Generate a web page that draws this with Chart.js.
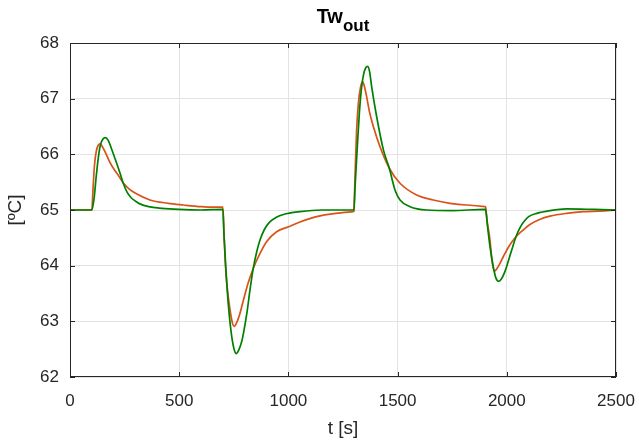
<!DOCTYPE html>
<html>
<head>
<meta charset="utf-8">
<script src="https://cdn.jsdelivr.net/npm/chart.js@4"></script>
<style>
  html, body { margin: 0; padding: 0; background: #fff; }
  #wrap { position: relative; width: 639px; height: 444px; }
  #title {
    position: absolute; left: 0; width: 686px; top: 5px; text-align: center;
    font-family: "Liberation Sans", Arial, sans-serif; font-weight: bold; font-size: 20px; color: #000;
  }
  #title sub { font-size: 17px; vertical-align: -8px; }
</style>
</head>
<body>
<div id="wrap">
  <canvas id="chart" width="639" height="444"></canvas>
  <div id="title">Tw<sub>out</sub></div>
</div>
<script>
// green series (t [s], Tw_out [ºC])
const tGreen = [0, 100, 110, 120, 130, 140, 150, 162, 175, 190, 210, 230, 243, 260, 280, 300, 320, 360, 420, 500, 600, 700,
  705, 715, 725, 738, 750, 761, 772, 785, 794, 810, 824, 839, 855, 870, 890, 916, 945, 977, 1053, 1150, 1300,
  1305, 1315, 1325, 1335, 1345, 1355, 1363, 1372, 1381, 1404, 1435, 1462, 1488, 1511, 1557, 1633, 1750, 1900,
  1903, 1912, 1923, 1938, 1950, 1963, 1975, 1990, 1999, 2020, 2042, 2060, 2076, 2100, 2137, 2198, 2274, 2400, 2500];
const vGreen = [65.0, 65.0, 65.2, 65.6, 65.95, 66.18, 66.27, 66.30, 66.25, 66.1, 65.88, 65.65, 65.49, 65.33, 65.22, 65.16, 65.11, 65.06, 65.03, 65.01, 65.0, 65.01,
  64.55, 63.85, 63.3, 62.8, 62.52, 62.42, 62.48, 62.62, 62.78, 63.15, 63.56, 63.95, 64.25, 64.46, 64.65, 64.79, 64.87, 64.92, 64.97, 65.0, 65.0,
  65.4, 66.1, 66.75, 67.2, 67.45, 67.56, 67.58, 67.48, 67.22, 66.68, 66.08, 65.75, 65.36, 65.18, 65.06, 65.0, 64.99, 65.01,
  65.0, 64.7, 64.34, 63.98, 63.78, 63.72, 63.76, 63.88, 63.98, 64.25, 64.52, 64.68, 64.78, 64.88, 64.94, 64.99, 65.02, 65.01, 65.0];

// orange series
const tOrange = [0, 100, 105, 112, 120, 130, 137, 145, 160, 180, 200, 225, 243, 270, 300, 366, 450, 519, 600, 656, 700,
  705, 712, 720, 733, 745, 752, 760, 775, 794, 815, 839, 870, 900, 946, 1001, 1050, 1129, 1200, 1297,
  1300, 1305, 1312, 1320, 1330, 1340, 1348, 1358, 1372, 1389, 1419, 1462, 1511, 1587, 1663, 1740, 1816, 1900,
  1903, 1910, 1923, 1932, 1943, 1955, 1970, 1984, 2010, 2042, 2075, 2106, 2150, 2198, 2274, 2350, 2427, 2500];
const vOrange = [65.0, 65.0, 65.35, 65.8, 66.05, 66.17, 66.19, 66.16, 66.05, 65.88, 65.74, 65.6, 65.49, 65.38, 65.30, 65.18, 65.12, 65.09, 65.06, 65.05, 65.05,
  64.6, 64.0, 63.6, 63.2, 62.95, 62.91, 62.95, 63.1, 63.38, 63.68, 63.95, 64.22, 64.43, 64.61, 64.70, 64.78, 64.88, 64.93, 64.97,
  64.98, 65.6, 66.4, 66.9, 67.2, 67.30, 67.22, 67.04, 66.75, 66.5, 66.14, 65.75, 65.48, 65.27, 65.18, 65.12, 65.09, 65.06,
  65.05, 64.8, 64.46, 64.1, 63.90, 63.95, 64.05, 64.16, 64.35, 64.52, 64.64, 64.74, 64.83, 64.89, 64.94, 64.97, 64.98, 65.0];

const xTicks = [0, 500, 1000, 1500, 2000, 2500];
const yTicks = [62, 63, 64, 65, 66, 67, 68];

const AXIS = '#262626';
const FONT = '"Liberation Sans", Arial, sans-serif';

// box + inward tick marks, MATLAB style
const boxPlugin = {
  id: 'box',
  afterDatasetsDraw(chart) {
    const { ctx, chartArea: a, scales } = chart;
    ctx.save();
    ctx.strokeStyle = AXIS;
    ctx.lineWidth = 1;
    ctx.strokeRect(a.left + 0.5, a.top + 0.5, a.right - a.left - 1, a.bottom - a.top - 1);
    ctx.beginPath();
    xTicks.forEach((v) => {
      const x = Math.round(scales.x.getPixelForValue(v)) + 0.5;
      ctx.moveTo(x, a.bottom); ctx.lineTo(x, a.bottom - 5);
      ctx.moveTo(x, a.top); ctx.lineTo(x, a.top + 5);
    });
    yTicks.forEach((v) => {
      const y = Math.round(scales.y.getPixelForValue(v)) + 0.5;
      ctx.moveTo(a.left, y); ctx.lineTo(a.left + 5, y);
      ctx.moveTo(a.right, y); ctx.lineTo(a.right - 5, y);
    });
    ctx.stroke();
    ctx.restore();
  },
};

new Chart(document.getElementById('chart'), {
  type: 'line',
  data: {
    datasets: [
      {
        label: 'green',
        data: tGreen.map((t, i) => ({ x: t, y: vGreen[i] })),
        borderColor: '#008000',
        borderWidth: 1.7,
        pointRadius: 0,
        cubicInterpolationMode: 'monotone',
      },
      {
        label: 'orange',
        data: tOrange.map((t, i) => ({ x: t, y: vOrange[i] })),
        borderColor: '#D95319',
        borderWidth: 1.7,
        pointRadius: 0,
        cubicInterpolationMode: 'monotone',
      },
    ],
  },
  options: {
    responsive: false,
    animation: false,
    layout: { padding: { left: 0, right: 23, top: 43, bottom: 0 } },
    plugins: { legend: { display: false }, tooltip: { enabled: false } },
    scales: {
      x: {
        type: 'linear', min: 0, max: 2500,
        afterBuildTicks: (s) => { s.ticks = xTicks.map((v) => ({ value: v })); },
        afterFit: (s) => { s.height = 67; s.paddingLeft = 0; s.paddingRight = 0; },
        grid: { color: '#e3e3e3', drawTicks: false },
        border: { display: false },
        ticks: { color: AXIS, font: { family: FONT, size: 17 }, padding: 14, maxRotation: 0, callback: (v) => String(v) },
        title: { display: true, text: 't [s]', color: AXIS, font: { family: FONT, size: 19 }, padding: { top: 7 } },
      },
      y: {
        min: 62, max: 68,
        afterBuildTicks: (s) => { s.ticks = yTicks.map((v) => ({ value: v })); },
        afterFit: (s) => { s.width = 70; s.paddingTop = 0; s.paddingBottom = 0; },
        grid: { color: '#e3e3e3', drawTicks: false },
        border: { display: false },
        ticks: { color: AXIS, font: { family: FONT, size: 17 }, padding: 11, callback: (v) => String(v) },
        title: { display: true, text: '[ºC]', color: AXIS, font: { family: FONT, size: 19 }, padding: { bottom: 4 } },
      },
    },
  },
  plugins: [boxPlugin],
});
</script>
</body>
</html>
